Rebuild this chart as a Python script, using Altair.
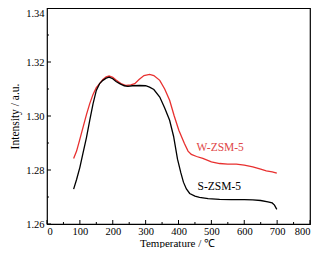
import altair as alt
import pandas as pd

# W-ZSM-5 (red)
w_temp = [81, 90, 99, 110, 120, 130, 140, 150, 160, 170, 180, 189, 200, 211, 225, 241,
          255, 267, 280, 295, 312, 325, 343, 358, 373, 387, 401, 418, 429, 439, 455,
          474, 500, 525, 550, 576, 600, 626, 650, 667, 685, 699]
w_int = [1.2843, 1.2870, 1.2910, 1.2960, 1.3005, 1.3046, 1.3080, 1.3105, 1.3120, 1.3135,
         1.3145, 1.3148, 1.3143, 1.3132, 1.3120, 1.3113, 1.3115, 1.3120, 1.3135, 1.3150,
         1.3154, 1.3150, 1.3132, 1.3100, 1.3058, 1.3000, 1.2947, 1.2898, 1.2870, 1.2858,
         1.2850, 1.2843, 1.2830, 1.2824, 1.2822, 1.2822, 1.2818, 1.2812, 1.2803, 1.2797,
         1.2793, 1.2788]

# S-ZSM-5 (black)
s_temp = [81, 90, 100, 109, 120, 130, 140, 150, 160, 170, 180, 189, 200, 210, 221, 235,
          246, 260, 282, 300, 312, 325, 343, 358, 373, 385, 397, 407, 415, 424, 434, 450,
          464, 490, 525, 560, 600, 626, 650, 672, 685, 692, 699]
s_int = [1.2729, 1.2765, 1.2810, 1.2860, 1.2920, 1.2984, 1.3045, 1.3095, 1.3120, 1.3132,
         1.3140, 1.3144, 1.3138, 1.3128, 1.3120, 1.3112, 1.3110, 1.3112, 1.3113, 1.3112,
         1.3107, 1.3098, 1.3070, 1.3030, 1.2984, 1.2925, 1.2840, 1.2790, 1.2755, 1.2730,
         1.2713, 1.2703, 1.2699, 1.2694, 1.2691, 1.2690, 1.2690, 1.2689, 1.2687, 1.2682,
         1.2678, 1.2670, 1.2654]

series_names = ["W-ZSM-5", "S-ZSM-5"]
series_colors = ["#e8302f", "#000000"]
label_temp = [455, 458]
label_int = [1.2881, 1.2738]
label_colors = ["#e04848", "#000000"]

x_major = [0, 100, 200, 300, 400, 500, 600, 700, 800]
x_minor = [50, 150, 250, 350, 450, 550, 650, 750]
y_major = [1.26, 1.28, 1.30, 1.32, 1.34]
y_minor = [1.27, 1.29, 1.31, 1.33]

FONT = "Liberation Serif"
W, H = 263, 216

df = pd.concat([
    pd.DataFrame({"T": w_temp, "I": w_int, "s": series_names[0]}),
    pd.DataFrame({"T": s_temp, "I": s_int, "s": series_names[1]}),
])
lab = pd.DataFrame({"T": label_temp, "I": label_int, "s": series_names, "c": label_colors})

xs = alt.Scale(domain=[0, 800], nice=False, zero=False)
ys = alt.Scale(domain=[1.26, 1.34], nice=False, zero=False)

x_axis = alt.Axis(
    values=x_major, title="Temperature / ℃", tickSize=0, domain=False, grid=False,
    labelFont=FONT, labelFontSize=10.5, labelPadding=2, labelColor="black",
    titleFont=FONT, titleFontSize=11, titleFontWeight="normal",
    titleBaseline="alphabetic", titleY=22, titleX=130,
    titleColor="black")
y_axis = alt.Axis(
    values=y_major, format=".2f", title="Intensity / a.u.", tickSize=0, domain=False,
    grid=False, labelFont=FONT, labelFontSize=10.5, labelPadding=3, labelColor="black",
    labelBaseline={"condition": {"test": "datum.value >= 1.339", "value": "top"},
                   "value": "middle"},
    titleFont=FONT, titleFontSize=11.5, titleFontWeight="normal", titlePadding=5,
    titleColor="black")

lines = alt.Chart(df).mark_line(strokeWidth=1.3).encode(
    x=alt.X("T:Q", scale=xs, axis=x_axis),
    y=alt.Y("I:Q", scale=ys, axis=y_axis),
    color=alt.Color("s:N", scale=alt.Scale(domain=series_names, range=series_colors), legend=None),
    detail="s:N",
)

texts = alt.Chart(lab).mark_text(align="left", baseline="middle", font=FONT, fontSize=11.5).encode(
    x=alt.X("T:Q", scale=xs, axis=x_axis),
    y=alt.Y("I:Q", scale=ys, axis=y_axis),
    text="s:N",
    color=alt.Color("c:N", scale=None),
)

def xticks(vals, length):
    return alt.Chart(pd.DataFrame({"T": vals})).mark_rule(color="black", strokeWidth=1).encode(
        x=alt.X("T:Q", scale=xs, axis=x_axis),
        y=alt.value(H), y2=alt.value(H - length))

def yticks(vals, length):
    return alt.Chart(pd.DataFrame({"I": vals})).mark_rule(color="black", strokeWidth=1).encode(
        y=alt.Y("I:Q", scale=ys, axis=y_axis),
        x=alt.value(0), x2=alt.value(length))

chart = alt.layer(
    lines, texts,
    xticks(x_major, 4), xticks(x_minor, 2),
    yticks(y_major, 4), yticks(y_minor, 2),
).properties(
    width=W, height=H,
    padding={"left": 39, "top": 0, "right": 11, "bottom": 24},
    autosize="none",
    background="white",
).configure_view(stroke="black", strokeWidth=1.2)

chart.save("out.html", embed_options={"renderer": "svg", "actions": False})
